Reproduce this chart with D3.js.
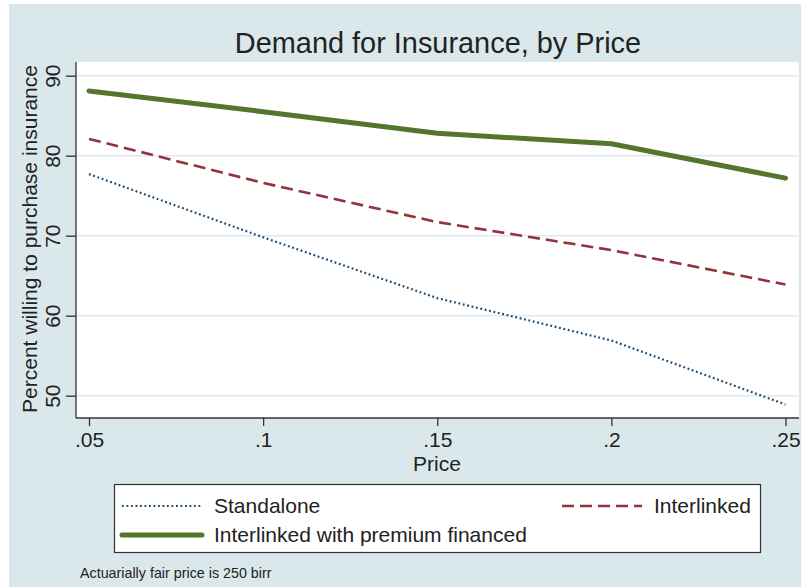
<!DOCTYPE html>
<html><head><meta charset="utf-8">
<script src="https://cdn.jsdelivr.net/npm/d3@7/dist/d3.min.js"></script>
<style>body{margin:0;background:#fff}svg{display:block}text{font-family:"Liberation Sans",Arial,sans-serif;fill:#222}</style>
</head><body><svg id="c" width="801" height="587"></svg>
<script>
const prices = [0.05, 0.10, 0.15, 0.20, 0.25];
const xTickLabels = [".05", ".1", ".15", ".2", ".25"];
const yTicks = [50, 60, 70, 80, 90];
const standalone = [77.7, 69.8, 62.2, 56.9, 48.9];
const interlinked = [82.1, 76.6, 71.7, 68.2, 63.9];
const financed = [88.1, 85.5, 82.8, 81.5, 77.2];
const seriesNames = ["Standalone", "Interlinked", "Interlinked with premium financed"];

const svg = d3.select("#c");
const bg = "#dae8ec";
svg.append("rect").attr("x", 9).attr("y", 4).attr("width", 792).attr("height", 583).attr("fill", bg);

const P = {l: 76, r: 799, t: 62, b: 418};
svg.append("rect").attr("x", P.l).attr("y", P.t).attr("width", P.r - P.l).attr("height", P.b - P.t).attr("fill", "#fff");

const x = d3.scaleLinear().domain([0.05, 0.25]).range([89, 785.5]);
const y = d3.scaleLinear().domain([50, 90]).range([395.7, 75.7]);
const FS = 21;

// gridlines
svg.append("g").selectAll("line").data(yTicks).join("line")
  .attr("x1", P.l).attr("x2", P.r).attr("y1", d => y(d)).attr("y2", d => y(d))
  .attr("stroke", "#dde9ec").attr("stroke-width", 1.5);

// y axis
const ya = svg.append("g").attr("transform", `translate(${P.l},0)`)
  .call(d3.axisLeft(y).tickValues(yTicks).tickSize(10).tickFormat(d3.format("d")));
ya.select(".domain").attr("d", `M0,${P.t}V${P.b}`).attr("stroke", "#333").attr("stroke-width", 1.3);
ya.selectAll(".tick line").attr("stroke", "#333").attr("stroke-width", 1.3);
ya.selectAll(".tick text").attr("font-size", FS).attr("font-family", "Liberation Sans, Arial, sans-serif")
  .attr("fill", "#222").attr("x", null).attr("y", null).attr("dy", null)
  .attr("text-anchor", "middle").attr("transform", "translate(-16,0) rotate(-90)");

// x axis
const xa = svg.append("g").attr("transform", `translate(0,${P.b})`)
  .call(d3.axisBottom(x).tickValues(prices).tickSize(8).tickPadding(6).tickFormat((d, i) => xTickLabels[i]));
xa.select(".domain").attr("d", `M${P.l},0H${P.r}`).attr("stroke", "#333").attr("stroke-width", 1.3);
xa.selectAll(".tick line").attr("stroke", "#333").attr("stroke-width", 1.3);
xa.selectAll(".tick text").attr("font-size", FS).attr("font-family", "Liberation Sans, Arial, sans-serif").attr("fill", "#222");

// titles
svg.append("text").attr("x", 438).attr("y", 53).attr("text-anchor", "middle").attr("font-size", 28.9).text("Demand for Insurance, by Price");
svg.append("text").attr("x", 437).attr("y", 471).attr("text-anchor", "middle").attr("font-size", FS).text("Price");
svg.append("text").attr("transform", `translate(37,239) rotate(-90)`).attr("text-anchor", "middle").attr("font-size", FS).text("Percent willing to purchase insurance");

// lines
const styles = [
  {data: standalone, color: "#1a476f", width: 2.2, dash: "1.8,2.7", cap: "butt"},
  {data: interlinked, color: "#90353b", width: 2.6, dash: "12,6", cap: "butt"},
  {data: financed, color: "#55752f", width: 5, dash: null, cap: "round"}
];
const line = d3.line().x((d, i) => x(prices[i])).y(d => y(d));
styles.forEach(s => {
  svg.append("path").attr("d", line(s.data)).attr("fill", "none").attr("stroke", s.color)
    .attr("stroke-width", s.width).attr("stroke-dasharray", s.dash).attr("stroke-linecap", s.cap).attr("stroke-linejoin", "round");
});

// legend
svg.append("rect").attr("x", 114.5).attr("y", 484.5).attr("width", 646).attr("height", 68).attr("fill", "#fff").attr("stroke", "#333").attr("stroke-width", 1.2);
const leg = [
  {x: 122, y: 506, s: styles[0], name: seriesNames[0]},
  {x: 562, y: 506, s: styles[1], name: seriesNames[1]},
  {x: 122, y: 535, s: styles[2], name: seriesNames[2]}
];
leg.forEach(l => {
  svg.append("line").attr("x1", l.x).attr("x2", l.x + 80).attr("y1", l.y).attr("y2", l.y)
    .attr("stroke", l.s.color).attr("stroke-width", l.s.width).attr("stroke-dasharray", l.s.dash).attr("stroke-linecap", l.s.cap);
  svg.append("text").attr("x", l.x + 92).attr("y", l.y).attr("dy", "0.35em").attr("font-size", FS).text(l.name);
});

svg.append("text").attr("x", 80).attr("y", 578).attr("font-size", 14.3).text("Actuarially fair price is 250 birr");
</script></body></html>
